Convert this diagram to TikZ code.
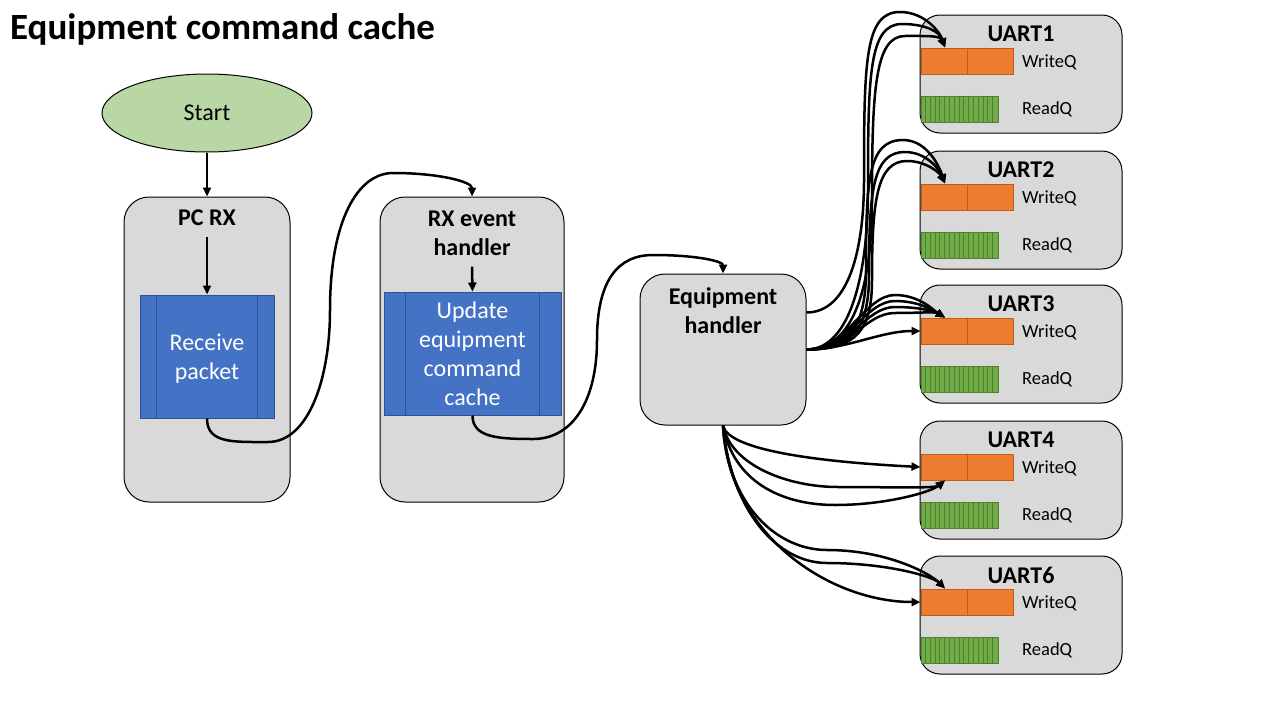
\documentclass[tikz,border=0pt]{standalone}
\usepackage{fontspec}
\setmainfont{Carlito}
\usetikzlibrary{arrows.meta,positioning,shapes.geometric,calc}
\definecolor{boxgray}{HTML}{D9D9D9}
\definecolor{startgreen}{HTML}{B8D7A4}
\definecolor{procblue}{HTML}{4472C4}
\definecolor{procedge}{HTML}{2F528F}
\definecolor{wqorange}{HTML}{ED7D31}
\definecolor{wqedge}{HTML}{C55A11}
\definecolor{rqgreen}{HTML}{70AD47}
\definecolor{rqedge}{HTML}{507E32}

\begin{document}
\begin{tikzpicture}[x=1pt,y=-1pt,font=\fontsize{24}{29}\selectfont,
    taskbox/.style={draw,line width=1pt,fill=boxgray,rounded corners=25pt,inner sep=0pt},
    uartbox/.style={draw,line width=1pt,fill=boxgray,rounded corners=20pt,
                    minimum width=202pt,minimum height=118pt,inner sep=0pt},
    procbox/.style={draw=procedge,line width=1pt,fill=procblue,text=white,
                    align=center,inner sep=0pt},
    procline/.style={draw=procedge,line width=1pt},
    boxtitle/.style={font=\fontsize{24}{29}\selectfont\bfseries,align=center,inner sep=0pt},
    flow/.style={line width=2.5pt,-{Triangle[length=9pt,width=8pt]}},
    wqbox/.style={draw=wqedge,fill=wqorange,line width=1pt,minimum width=92pt,
                  minimum height=26pt,inner sep=0pt},
    wqline/.style={draw=wqedge,line width=1pt},
    rqbox/.style={draw=rqedge,fill=rqgreen,line width=1pt,minimum width=77pt,
                  minimum height=26pt,inner sep=0pt},
    rqline/.style={draw=rqedge,line width=0.8pt},
    qlabel/.style={font=\fontsize{18.5}{22}\selectfont,anchor=base west,inner sep=0pt}]
  \useasboundingbox (0,0) rectangle (1280,720);

  \node[font=\fontsize{37}{44}\selectfont\bfseries,anchor=base west,inner sep=0pt]
       (title) at (10,39) {Equipment command cache};

  % left part of the flow
  \node[draw,line width=1pt,fill=startgreen,ellipse,minimum width=210pt,
        minimum height=78pt,inner sep=0pt] (start) at (207,113) {Start};
  \node[taskbox,minimum width=166pt,minimum height=305pt] (pcrx) at (207,349.5) {};
  \node[boxtitle,below=13pt of pcrx.north] (pcrx-t) {PC RX};
  \node[procbox,minimum width=134pt,minimum height=123pt,text depth=0pt] (recv)
       at (207,356.5) {Receive\\packet};
  \draw[procline] ([xshift=17pt]recv.north west) -- ([xshift=17pt]recv.south west);
  \draw[procline] ([xshift=-17pt]recv.north east) -- ([xshift=-17pt]recv.south east);

  \node[taskbox,minimum width=184pt,minimum height=305pt] (rxh) at (472,349.5) {};
  \node[boxtitle,below=14pt of rxh.north] (rxh-t) {RX event\\handler};
  \node[procbox,minimum width=177pt,minimum height=123pt] (upd) at (472.5,353.5)
       {Update\\equipment\\command\\cache};
  \draw[procline] ([xshift=22pt]upd.north west) -- ([xshift=22pt]upd.south west);
  \draw[procline] ([xshift=-22pt]upd.north east) -- ([xshift=-22pt]upd.south east);

  \node[taskbox,minimum width=166pt,minimum height=151pt] (eqh) at (723,349.5) {};
  \node[boxtitle,below=14pt of eqh.north] (eqh-t) {Equipment\\handler};
  \coordinate (eqh-hi) at ([yshift=37pt]eqh.east);

  % uart blocks
  \foreach \name/\lab/\top in {u1/UART1/15,u2/UART2/151,u3/UART3/285,u4/UART4/421,u6/UART6/556}{
    \node[uartbox] (\name) at (1021,\top+59) {};
    \node[boxtitle,below=11pt of \name.north] (\name-t) {\lab};
    \node[wqbox] (\name-wq) at (967,\top+46) {};
    \draw[wqline] (\name-wq.north) -- (\name-wq.south);
    \node[rqbox] (\name-rq) at (959.5,\top+94) {};
    \foreach \i in {1,...,15}
      \draw[rqline] ([xshift=\i*4.8125pt]\name-rq.north west)
                 -- ([xshift=\i*4.8125pt]\name-rq.south west);
    \node[qlabel] (\name-wl) at (1022,\top+52) {WriteQ};
    \node[qlabel] (\name-rl) at (1022,\top+99) {ReadQ};
  }

  % arrows
  \draw[flow] (start) -- (pcrx);
  \draw[flow] ([yshift=-11pt]pcrx-t.south) -- (recv.north);
  \draw[flow] ([yshift=-11pt]rxh-t.south) -- (upd.north);
  \draw[flow] (recv.south) .. controls +(0,25) and +(-35,0) .. (268,442)
    .. controls +(40,0) and +(0,70) .. (330,310)
    .. controls +(0,-90) and +(-35,0) .. (393,173)
    .. controls +(45,0) and +(0,-15) .. (rxh.north);
  \draw[flow] (upd.south) .. controls +(0,22) and +(-35,0) .. (533,439)
    .. controls +(40,0) and +(0,60) .. (597,340)
    .. controls +(0,-60) and +(-35,0) .. (653,255)
    .. controls +(45,0) and +(0,-12) .. (eqh.north);

  % to UART1
  \draw[flow] (eqh-hi) .. controls +(42,0) and +(0,70) .. (864,180)
    .. controls +(0,-120) and +(-35,0) .. (900,12)
    .. controls +(25,0) and +(-5,-15) .. ([xshift=-22pt]u1-wq.north);
  \draw[flow] (eqh.east) .. controls +(45,0) and +(0,80) .. (868,190)
    .. controls +(0,-115) and +(-33,0) .. (902,24)
    .. controls +(25,0) and +(-5,-15) .. ([xshift=-22pt]u1-wq.north);
  \draw[flow] (eqh.east) .. controls +(50,0) and +(0,80) .. (872,200)
    .. controls +(0,-110) and +(-30,0) .. (905,36)
    .. controls +(22,0) and +(-5,-12) .. ([xshift=-22pt]u1-wq.north);
  % to UART2
  \draw[flow] (eqh.east) .. controls +(40,0) and +(0,60) .. (866,270)
    .. controls +(0,-90) and +(-35,0) .. (903,140)
    .. controls +(25,0) and +(-5,-15) .. ([xshift=-22pt]u2-wq.north);
  \draw[flow] (eqh.east) .. controls +(45,0) and +(0,55) .. (869,275)
    .. controls +(0,-85) and +(-32,0) .. (905,152)
    .. controls +(22,0) and +(-5,-13) .. ([xshift=-22pt]u2-wq.north);
  \draw[flow] (eqh.east) .. controls +(50,0) and +(0,50) .. (872,280)
    .. controls +(0,-80) and +(-30,0) .. (907,161)
    .. controls +(20,0) and +(-5,-10) .. ([xshift=-22pt]u2-wq.north);
  % to UART3
  \foreach \h/\k in {295/40,301/42,307/44,313/46}
    \draw[flow] (eqh.east) .. controls +(\k,0) and +(-30,0) .. (895,\h)
      .. controls +(25,0) and +(-10,-6) .. ([xshift=-22pt]u3-wq.north);
  \draw[flow] (eqh.east) .. controls +(40,0) and +(-40,0) .. (u3-wq.west);
  % to UART4
  \draw[flow] (eqh.south) .. controls +(5,25) and +(-100,-5) .. (u4-wq.west);
  \draw[flow] (eqh.south) .. controls +(8,40) and +(-50,0) .. (838,487)
    .. controls +(50,0) and +(-10,8) .. ([xshift=-22pt]u4-wq.south);
  \draw[flow] (eqh.south) .. controls +(10,55) and +(-55,0) .. (835,505)
    .. controls +(50,0) and +(-15,12) .. ([xshift=-22pt]u4-wq.south);
  % to UART6
  \draw[flow] (eqh.south) .. controls +(5,80) and +(-50,0) .. (827,550)
    .. controls +(60,0) and +(-15,-15) .. ([xshift=-22pt]u6-wq.north);
  \draw[flow] (eqh.south) .. controls +(8,85) and +(-50,0) .. (827,563)
    .. controls +(60,0) and +(-12,-12) .. ([xshift=-22pt]u6-wq.north);
  \draw[flow] (eqh.south) .. controls +(5,110) and +(-90,0) .. (u6-wq.west);
\end{tikzpicture}
\end{document}
